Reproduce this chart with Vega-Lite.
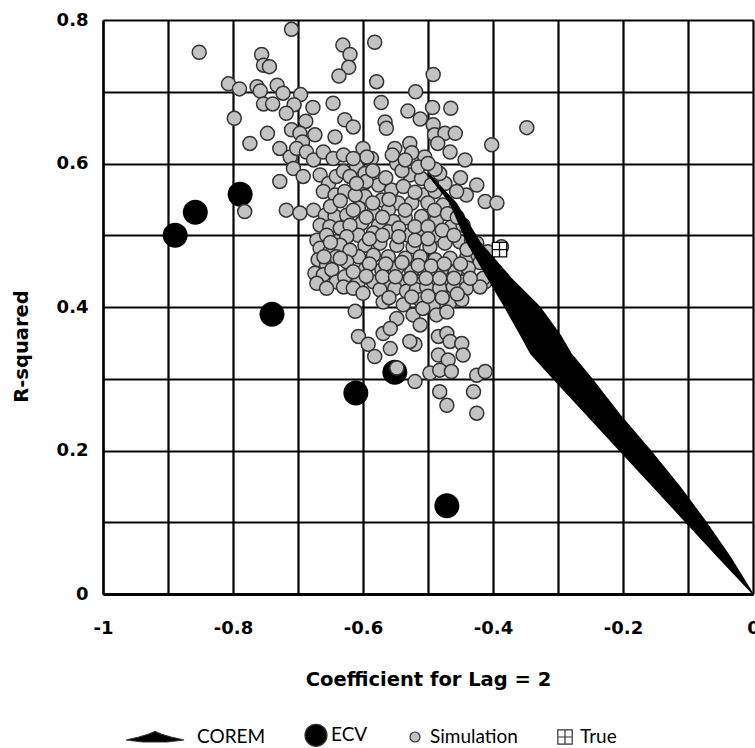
{
  "$schema": "https://vega.github.io/schema/vega-lite/v6.json",
  "width": 650,
  "height": 574,
  "autosize": {"type": "none"},
  "padding": {"left": 103, "top": 20, "right": 2, "bottom": 154},
  "background": "white",
  "config": {
    "view": {"stroke": null},
    "font": "Lato"
  },
  "datasets": {
    "corem": [
      {"r2": 0.584, "coef": -0.5, "coef2": -0.497},
      {"r2": 0.545, "coef": -0.466, "coef2": -0.457},
      {"r2": 0.49, "coef": -0.44, "coef2": -0.42},
      {"r2": 0.44, "coef": -0.408, "coef2": -0.372},
      {"r2": 0.4, "coef": -0.382, "coef2": -0.328},
      {"r2": 0.36, "coef": -0.357, "coef2": -0.296},
      {"r2": 0.335, "coef": -0.342, "coef2": -0.28},
      {"r2": 0.3, "coef": -0.307, "coef2": -0.248},
      {"r2": 0.25, "coef": -0.256, "coef2": -0.205},
      {"r2": 0.2, "coef": -0.205, "coef2": -0.158},
      {"r2": 0.15, "coef": -0.154, "coef2": -0.113},
      {"r2": 0.1, "coef": -0.103, "coef2": -0.072},
      {"r2": 0.05, "coef": -0.052, "coef2": -0.034},
      {"r2": 0.0, "coef": 0.0, "coef2": 0.0}
    ],
    "ecv": [
      {"series": "ECV", "coef": -0.889, "r2": 0.5},
      {"series": "ECV", "coef": -0.858, "r2": 0.532},
      {"series": "ECV", "coef": -0.789, "r2": 0.557},
      {"series": "ECV", "coef": -0.74, "r2": 0.39},
      {"series": "ECV", "coef": -0.611, "r2": 0.28},
      {"series": "ECV", "coef": -0.551, "r2": 0.309},
      {"series": "ECV", "coef": -0.471, "r2": 0.123}
    ],
    "truth": [
      {"series": "True", "coef": -0.39, "r2": 0.48}
    ],
    "simulation": [
      {"series": "Simulation", "coef": -0.852, "r2": 0.755},
      {"series": "Simulation", "coef": -0.71, "r2": 0.787},
      {"series": "Simulation", "coef": -0.756, "r2": 0.752},
      {"series": "Simulation", "coef": -0.753, "r2": 0.737},
      {"series": "Simulation", "coef": -0.744, "r2": 0.735},
      {"series": "Simulation", "coef": -0.631, "r2": 0.765},
      {"series": "Simulation", "coef": -0.62, "r2": 0.752},
      {"series": "Simulation", "coef": -0.622, "r2": 0.734},
      {"series": "Simulation", "coef": -0.637, "r2": 0.722},
      {"series": "Simulation", "coef": -0.807, "r2": 0.711},
      {"series": "Simulation", "coef": -0.79, "r2": 0.704},
      {"series": "Simulation", "coef": -0.763, "r2": 0.707},
      {"series": "Simulation", "coef": -0.758, "r2": 0.701},
      {"series": "Simulation", "coef": -0.732, "r2": 0.709},
      {"series": "Simulation", "coef": -0.723, "r2": 0.698},
      {"series": "Simulation", "coef": -0.696, "r2": 0.696},
      {"series": "Simulation", "coef": -0.753, "r2": 0.683},
      {"series": "Simulation", "coef": -0.739, "r2": 0.683},
      {"series": "Simulation", "coef": -0.706, "r2": 0.682},
      {"series": "Simulation", "coef": -0.677, "r2": 0.678},
      {"series": "Simulation", "coef": -0.646, "r2": 0.684},
      {"series": "Simulation", "coef": -0.798, "r2": 0.663},
      {"series": "Simulation", "coef": -0.718, "r2": 0.67},
      {"series": "Simulation", "coef": -0.688, "r2": 0.659},
      {"series": "Simulation", "coef": -0.628, "r2": 0.661},
      {"series": "Simulation", "coef": -0.615, "r2": 0.651},
      {"series": "Simulation", "coef": -0.747, "r2": 0.642},
      {"series": "Simulation", "coef": -0.71, "r2": 0.647},
      {"series": "Simulation", "coef": -0.697, "r2": 0.642},
      {"series": "Simulation", "coef": -0.674, "r2": 0.64},
      {"series": "Simulation", "coef": -0.643, "r2": 0.637},
      {"series": "Simulation", "coef": -0.774, "r2": 0.628},
      {"series": "Simulation", "coef": -0.693, "r2": 0.63},
      {"series": "Simulation", "coef": -0.728, "r2": 0.621},
      {"series": "Simulation", "coef": -0.582, "r2": 0.769},
      {"series": "Simulation", "coef": -0.492, "r2": 0.724},
      {"series": "Simulation", "coef": -0.579, "r2": 0.714},
      {"series": "Simulation", "coef": -0.519, "r2": 0.7},
      {"series": "Simulation", "coef": -0.572, "r2": 0.685},
      {"series": "Simulation", "coef": -0.531, "r2": 0.673},
      {"series": "Simulation", "coef": -0.493, "r2": 0.678},
      {"series": "Simulation", "coef": -0.465, "r2": 0.677},
      {"series": "Simulation", "coef": -0.512, "r2": 0.662},
      {"series": "Simulation", "coef": -0.566, "r2": 0.658},
      {"series": "Simulation", "coef": -0.564, "r2": 0.649},
      {"series": "Simulation", "coef": -0.492, "r2": 0.654},
      {"series": "Simulation", "coef": -0.49, "r2": 0.64},
      {"series": "Simulation", "coef": -0.474, "r2": 0.642},
      {"series": "Simulation", "coef": -0.458, "r2": 0.642},
      {"series": "Simulation", "coef": -0.348, "r2": 0.65},
      {"series": "Simulation", "coef": -0.402, "r2": 0.626},
      {"series": "Simulation", "coef": -0.528, "r2": 0.628},
      {"series": "Simulation", "coef": -0.551, "r2": 0.621},
      {"series": "Simulation", "coef": -0.6, "r2": 0.621},
      {"series": "Simulation", "coef": -0.485, "r2": 0.628},
      {"series": "Simulation", "coef": -0.505, "r2": 0.609},
      {"series": "Simulation", "coef": -0.466, "r2": 0.616},
      {"series": "Simulation", "coef": -0.443, "r2": 0.605},
      {"series": "Simulation", "coef": -0.587, "r2": 0.607},
      {"series": "Simulation", "coef": -0.425, "r2": 0.57},
      {"series": "Simulation", "coef": -0.441, "r2": 0.556},
      {"series": "Simulation", "coef": -0.412, "r2": 0.547},
      {"series": "Simulation", "coef": -0.394, "r2": 0.545},
      {"series": "Simulation", "coef": -0.474, "r2": 0.572},
      {"series": "Simulation", "coef": -0.456, "r2": 0.561},
      {"series": "Simulation", "coef": -0.482, "r2": 0.586},
      {"series": "Simulation", "coef": -0.408, "r2": 0.477},
      {"series": "Simulation", "coef": -0.412, "r2": 0.435},
      {"series": "Simulation", "coef": -0.594, "r2": 0.609},
      {"series": "Simulation", "coef": -0.525, "r2": 0.615},
      {"series": "Simulation", "coef": -0.61, "r2": 0.596},
      {"series": "Simulation", "coef": -0.597, "r2": 0.586},
      {"series": "Simulation", "coef": -0.548, "r2": 0.6},
      {"series": "Simulation", "coef": -0.528, "r2": 0.584},
      {"series": "Simulation", "coef": -0.51, "r2": 0.579},
      {"series": "Simulation", "coef": -0.489, "r2": 0.592},
      {"series": "Simulation", "coef": -0.602, "r2": 0.568},
      {"series": "Simulation", "coef": -0.576, "r2": 0.57},
      {"series": "Simulation", "coef": -0.556, "r2": 0.563},
      {"series": "Simulation", "coef": -0.538, "r2": 0.568},
      {"series": "Simulation", "coef": -0.507, "r2": 0.556},
      {"series": "Simulation", "coef": -0.489, "r2": 0.561},
      {"series": "Simulation", "coef": -0.597, "r2": 0.554},
      {"series": "Simulation", "coef": -0.571, "r2": 0.549},
      {"series": "Simulation", "coef": -0.546, "r2": 0.545},
      {"series": "Simulation", "coef": -0.525, "r2": 0.545},
      {"series": "Simulation", "coef": -0.5, "r2": 0.545},
      {"series": "Simulation", "coef": -0.477, "r2": 0.542},
      {"series": "Simulation", "coef": -0.607, "r2": 0.538},
      {"series": "Simulation", "coef": -0.584, "r2": 0.531},
      {"series": "Simulation", "coef": -0.561, "r2": 0.535},
      {"series": "Simulation", "coef": -0.535, "r2": 0.524},
      {"series": "Simulation", "coef": -0.51, "r2": 0.526},
      {"series": "Simulation", "coef": -0.487, "r2": 0.521},
      {"series": "Simulation", "coef": -0.602, "r2": 0.517},
      {"series": "Simulation", "coef": -0.576, "r2": 0.514},
      {"series": "Simulation", "coef": -0.553, "r2": 0.519},
      {"series": "Simulation", "coef": -0.464, "r2": 0.512},
      {"series": "Simulation", "coef": -0.446, "r2": 0.514},
      {"series": "Simulation", "coef": -0.607, "r2": 0.5},
      {"series": "Simulation", "coef": -0.584, "r2": 0.503},
      {"series": "Simulation", "coef": -0.561, "r2": 0.505},
      {"series": "Simulation", "coef": -0.53, "r2": 0.5},
      {"series": "Simulation", "coef": -0.51, "r2": 0.498},
      {"series": "Simulation", "coef": -0.489, "r2": 0.5},
      {"series": "Simulation", "coef": -0.474, "r2": 0.489},
      {"series": "Simulation", "coef": -0.451, "r2": 0.491},
      {"series": "Simulation", "coef": -0.433, "r2": 0.493},
      {"series": "Simulation", "coef": -0.597, "r2": 0.486},
      {"series": "Simulation", "coef": -0.574, "r2": 0.489},
      {"series": "Simulation", "coef": -0.548, "r2": 0.486},
      {"series": "Simulation", "coef": -0.523, "r2": 0.484},
      {"series": "Simulation", "coef": -0.497, "r2": 0.484},
      {"series": "Simulation", "coef": -0.425, "r2": 0.489},
      {"series": "Simulation", "coef": -0.387, "r2": 0.484},
      {"series": "Simulation", "coef": -0.607, "r2": 0.47},
      {"series": "Simulation", "coef": -0.584, "r2": 0.472},
      {"series": "Simulation", "coef": -0.561, "r2": 0.47},
      {"series": "Simulation", "coef": -0.535, "r2": 0.468},
      {"series": "Simulation", "coef": -0.512, "r2": 0.47},
      {"series": "Simulation", "coef": -0.489, "r2": 0.466},
      {"series": "Simulation", "coef": -0.466, "r2": 0.468},
      {"series": "Simulation", "coef": -0.44, "r2": 0.47},
      {"series": "Simulation", "coef": -0.423, "r2": 0.472},
      {"series": "Simulation", "coef": -0.42, "r2": 0.462},
      {"series": "Simulation", "coef": -0.597, "r2": 0.452},
      {"series": "Simulation", "coef": -0.571, "r2": 0.452},
      {"series": "Simulation", "coef": -0.548, "r2": 0.454},
      {"series": "Simulation", "coef": -0.525, "r2": 0.449},
      {"series": "Simulation", "coef": -0.505, "r2": 0.449},
      {"series": "Simulation", "coef": -0.479, "r2": 0.452},
      {"series": "Simulation", "coef": -0.458, "r2": 0.449},
      {"series": "Simulation", "coef": -0.438, "r2": 0.454},
      {"series": "Simulation", "coef": -0.415, "r2": 0.44},
      {"series": "Simulation", "coef": -0.607, "r2": 0.435},
      {"series": "Simulation", "coef": -0.584, "r2": 0.435},
      {"series": "Simulation", "coef": -0.561, "r2": 0.433},
      {"series": "Simulation", "coef": -0.538, "r2": 0.435},
      {"series": "Simulation", "coef": -0.515, "r2": 0.431},
      {"series": "Simulation", "coef": -0.492, "r2": 0.433},
      {"series": "Simulation", "coef": -0.469, "r2": 0.431},
      {"series": "Simulation", "coef": -0.448, "r2": 0.435},
      {"series": "Simulation", "coef": -0.712, "r2": 0.609},
      {"series": "Simulation", "coef": -0.702, "r2": 0.621},
      {"series": "Simulation", "coef": -0.687, "r2": 0.616},
      {"series": "Simulation", "coef": -0.676, "r2": 0.605},
      {"series": "Simulation", "coef": -0.661, "r2": 0.616},
      {"series": "Simulation", "coef": -0.646, "r2": 0.607},
      {"series": "Simulation", "coef": -0.63, "r2": 0.612},
      {"series": "Simulation", "coef": -0.615, "r2": 0.607},
      {"series": "Simulation", "coef": -0.707, "r2": 0.593},
      {"series": "Simulation", "coef": -0.692, "r2": 0.582},
      {"series": "Simulation", "coef": -0.666, "r2": 0.584},
      {"series": "Simulation", "coef": -0.653, "r2": 0.572},
      {"series": "Simulation", "coef": -0.641, "r2": 0.582},
      {"series": "Simulation", "coef": -0.63, "r2": 0.589},
      {"series": "Simulation", "coef": -0.62, "r2": 0.582},
      {"series": "Simulation", "coef": -0.728, "r2": 0.575},
      {"series": "Simulation", "coef": -0.661, "r2": 0.561},
      {"series": "Simulation", "coef": -0.643, "r2": 0.556},
      {"series": "Simulation", "coef": -0.628, "r2": 0.561},
      {"series": "Simulation", "coef": -0.612, "r2": 0.556},
      {"series": "Simulation", "coef": -0.782, "r2": 0.533},
      {"series": "Simulation", "coef": -0.718, "r2": 0.535},
      {"series": "Simulation", "coef": -0.697, "r2": 0.531},
      {"series": "Simulation", "coef": -0.676, "r2": 0.535},
      {"series": "Simulation", "coef": -0.658, "r2": 0.528},
      {"series": "Simulation", "coef": -0.643, "r2": 0.526},
      {"series": "Simulation", "coef": -0.625, "r2": 0.528},
      {"series": "Simulation", "coef": -0.666, "r2": 0.514},
      {"series": "Simulation", "coef": -0.651, "r2": 0.512},
      {"series": "Simulation", "coef": -0.635, "r2": 0.51},
      {"series": "Simulation", "coef": -0.62, "r2": 0.514},
      {"series": "Simulation", "coef": -0.671, "r2": 0.493},
      {"series": "Simulation", "coef": -0.656, "r2": 0.5},
      {"series": "Simulation", "coef": -0.641, "r2": 0.491},
      {"series": "Simulation", "coef": -0.625, "r2": 0.498},
      {"series": "Simulation", "coef": -0.666, "r2": 0.482},
      {"series": "Simulation", "coef": -0.651, "r2": 0.477},
      {"series": "Simulation", "coef": -0.635, "r2": 0.486},
      {"series": "Simulation", "coef": -0.62, "r2": 0.479},
      {"series": "Simulation", "coef": -0.669, "r2": 0.466},
      {"series": "Simulation", "coef": -0.656, "r2": 0.459},
      {"series": "Simulation", "coef": -0.641, "r2": 0.47},
      {"series": "Simulation", "coef": -0.625, "r2": 0.463},
      {"series": "Simulation", "coef": -0.674, "r2": 0.447},
      {"series": "Simulation", "coef": -0.661, "r2": 0.445},
      {"series": "Simulation", "coef": -0.648, "r2": 0.452},
      {"series": "Simulation", "coef": -0.641, "r2": 0.435},
      {"series": "Simulation", "coef": -0.628, "r2": 0.442},
      {"series": "Simulation", "coef": -0.615, "r2": 0.449},
      {"series": "Simulation", "coef": -0.671, "r2": 0.433},
      {"series": "Simulation", "coef": -0.656, "r2": 0.426},
      {"series": "Simulation", "coef": -0.63, "r2": 0.428},
      {"series": "Simulation", "coef": -0.615, "r2": 0.426},
      {"series": "Simulation", "coef": -0.574, "r2": 0.424},
      {"series": "Simulation", "coef": -0.551, "r2": 0.426},
      {"series": "Simulation", "coef": -0.533, "r2": 0.422},
      {"series": "Simulation", "coef": -0.518, "r2": 0.424},
      {"series": "Simulation", "coef": -0.502, "r2": 0.428},
      {"series": "Simulation", "coef": -0.482, "r2": 0.426},
      {"series": "Simulation", "coef": -0.461, "r2": 0.428},
      {"series": "Simulation", "coef": -0.441, "r2": 0.426},
      {"series": "Simulation", "coef": -0.42, "r2": 0.428},
      {"series": "Simulation", "coef": -0.569, "r2": 0.407},
      {"series": "Simulation", "coef": -0.538, "r2": 0.403},
      {"series": "Simulation", "coef": -0.512, "r2": 0.41},
      {"series": "Simulation", "coef": -0.492, "r2": 0.403},
      {"series": "Simulation", "coef": -0.466, "r2": 0.407},
      {"series": "Simulation", "coef": -0.448, "r2": 0.41},
      {"series": "Simulation", "coef": -0.612, "r2": 0.394},
      {"series": "Simulation", "coef": -0.548, "r2": 0.384},
      {"series": "Simulation", "coef": -0.523, "r2": 0.389},
      {"series": "Simulation", "coef": -0.508, "r2": 0.398},
      {"series": "Simulation", "coef": -0.487, "r2": 0.389},
      {"series": "Simulation", "coef": -0.471, "r2": 0.393},
      {"series": "Simulation", "coef": -0.512, "r2": 0.375},
      {"series": "Simulation", "coef": -0.569, "r2": 0.363},
      {"series": "Simulation", "coef": -0.558, "r2": 0.37},
      {"series": "Simulation", "coef": -0.607, "r2": 0.359},
      {"series": "Simulation", "coef": -0.592, "r2": 0.348},
      {"series": "Simulation", "coef": -0.558, "r2": 0.342},
      {"series": "Simulation", "coef": -0.582, "r2": 0.331},
      {"series": "Simulation", "coef": -0.52, "r2": 0.348},
      {"series": "Simulation", "coef": -0.528, "r2": 0.352},
      {"series": "Simulation", "coef": -0.484, "r2": 0.359},
      {"series": "Simulation", "coef": -0.471, "r2": 0.363},
      {"series": "Simulation", "coef": -0.466, "r2": 0.352},
      {"series": "Simulation", "coef": -0.448, "r2": 0.349},
      {"series": "Simulation", "coef": -0.484, "r2": 0.333},
      {"series": "Simulation", "coef": -0.469, "r2": 0.326},
      {"series": "Simulation", "coef": -0.446, "r2": 0.333},
      {"series": "Simulation", "coef": -0.548, "r2": 0.315},
      {"series": "Simulation", "coef": -0.52, "r2": 0.296},
      {"series": "Simulation", "coef": -0.497, "r2": 0.308},
      {"series": "Simulation", "coef": -0.482, "r2": 0.312},
      {"series": "Simulation", "coef": -0.464, "r2": 0.31},
      {"series": "Simulation", "coef": -0.482, "r2": 0.282},
      {"series": "Simulation", "coef": -0.471, "r2": 0.263},
      {"series": "Simulation", "coef": -0.425, "r2": 0.305},
      {"series": "Simulation", "coef": -0.412, "r2": 0.31},
      {"series": "Simulation", "coef": -0.43, "r2": 0.282},
      {"series": "Simulation", "coef": -0.425, "r2": 0.252},
      {"series": "Simulation", "coef": -0.595, "r2": 0.575},
      {"series": "Simulation", "coef": -0.565, "r2": 0.58},
      {"series": "Simulation", "coef": -0.54, "r2": 0.59},
      {"series": "Simulation", "coef": -0.515, "r2": 0.595},
      {"series": "Simulation", "coef": -0.495, "r2": 0.57},
      {"series": "Simulation", "coef": -0.52, "r2": 0.56},
      {"series": "Simulation", "coef": -0.585, "r2": 0.545},
      {"series": "Simulation", "coef": -0.56, "r2": 0.55},
      {"series": "Simulation", "coef": -0.535, "r2": 0.535},
      {"series": "Simulation", "coef": -0.49, "r2": 0.535},
      {"series": "Simulation", "coef": -0.47, "r2": 0.53},
      {"series": "Simulation", "coef": -0.455, "r2": 0.525},
      {"series": "Simulation", "coef": -0.595, "r2": 0.525},
      {"series": "Simulation", "coef": -0.57, "r2": 0.525},
      {"series": "Simulation", "coef": -0.545, "r2": 0.51},
      {"series": "Simulation", "coef": -0.52, "r2": 0.512},
      {"series": "Simulation", "coef": -0.5, "r2": 0.512},
      {"series": "Simulation", "coef": -0.478, "r2": 0.507},
      {"series": "Simulation", "coef": -0.59, "r2": 0.495},
      {"series": "Simulation", "coef": -0.57, "r2": 0.5},
      {"series": "Simulation", "coef": -0.545, "r2": 0.498},
      {"series": "Simulation", "coef": -0.52, "r2": 0.493},
      {"series": "Simulation", "coef": -0.5, "r2": 0.495},
      {"series": "Simulation", "coef": -0.46, "r2": 0.5},
      {"series": "Simulation", "coef": -0.44, "r2": 0.48},
      {"series": "Simulation", "coef": -0.59, "r2": 0.46},
      {"series": "Simulation", "coef": -0.565, "r2": 0.46},
      {"series": "Simulation", "coef": -0.54, "r2": 0.462},
      {"series": "Simulation", "coef": -0.515, "r2": 0.458},
      {"series": "Simulation", "coef": -0.495, "r2": 0.457},
      {"series": "Simulation", "coef": -0.475, "r2": 0.46},
      {"series": "Simulation", "coef": -0.45, "r2": 0.46},
      {"series": "Simulation", "coef": -0.595, "r2": 0.443},
      {"series": "Simulation", "coef": -0.57, "r2": 0.442},
      {"series": "Simulation", "coef": -0.55, "r2": 0.442},
      {"series": "Simulation", "coef": -0.527, "r2": 0.44},
      {"series": "Simulation", "coef": -0.503, "r2": 0.44},
      {"series": "Simulation", "coef": -0.482, "r2": 0.44},
      {"series": "Simulation", "coef": -0.46, "r2": 0.44},
      {"series": "Simulation", "coef": -0.435, "r2": 0.44},
      {"series": "Simulation", "coef": -0.6, "r2": 0.419},
      {"series": "Simulation", "coef": -0.56, "r2": 0.413},
      {"series": "Simulation", "coef": -0.525, "r2": 0.414},
      {"series": "Simulation", "coef": -0.5, "r2": 0.415},
      {"series": "Simulation", "coef": -0.478, "r2": 0.413},
      {"series": "Simulation", "coef": -0.455, "r2": 0.418},
      {"series": "Simulation", "coef": -0.65, "r2": 0.54},
      {"series": "Simulation", "coef": -0.635, "r2": 0.548},
      {"series": "Simulation", "coef": -0.65, "r2": 0.49},
      {"series": "Simulation", "coef": -0.635, "r2": 0.468},
      {"series": "Simulation", "coef": -0.66, "r2": 0.47},
      {"series": "Simulation", "coef": -0.615, "r2": 0.535},
      {"series": "Simulation", "coef": -0.61, "r2": 0.572},
      {"series": "Simulation", "coef": -0.585, "r2": 0.59},
      {"series": "Simulation", "coef": -0.555, "r2": 0.612},
      {"series": "Simulation", "coef": -0.535, "r2": 0.605},
      {"series": "Simulation", "coef": -0.45, "r2": 0.58},
      {"series": "Simulation", "coef": -0.5, "r2": 0.6}
    ]
  },
  "encoding": {
    "x": {
      "field": "coef",
      "type": "quantitative",
      "title": "Coefficient for Lag = 2",
      "scale": {"domain": [-1, 0], "nice": false, "zero": false},
      "axis": {
        "values": [-1, -0.9, -0.8, -0.7, -0.6, -0.5, -0.4, -0.3, -0.2, -0.1, 0],
        "labelExpr": "abs(round(datum.value*10)) % 2 == 0 ? replace(format(datum.value, '~g'), '\u2212', '-') : ''",
        "labelFlush": false,
        "labelOverlap": false,
        "grid": true,
        "gridColor": "black",
        "gridWidth": 2.2,
        "gridOpacity": 1,
        "ticks": false,
        "tickSize": 0,
        "domain": true,
        "domainColor": "black",
        "domainWidth": 3,
        "labelFont": "DejaVu Sans",
        "labelFontSize": 18,
        "labelFontWeight": "bold",
        "labelColor": "black",
        "labelPadding": 25,
        "titleFont": "DejaVu Sans",
        "titleFontSize": 19.5,
        "titleFontWeight": "bold",
        "titleColor": "black",
        "titlePadding": 33
      }
    },
    "y": {
      "field": "r2",
      "type": "quantitative",
      "title": "R-squared",
      "scale": {"domain": [0, 0.8], "nice": false, "zero": false},
      "axis": {
        "values": [0, 0.1, 0.2, 0.3, 0.4, 0.5, 0.6, 0.7, 0.8],
        "labelExpr": "round(datum.value*10) % 2 == 0 ? format(datum.value, '~g') : ''",
        "labelOverlap": false,
        "grid": true,
        "gridColor": "black",
        "gridWidth": 2.2,
        "gridOpacity": 1,
        "ticks": false,
        "tickSize": 0,
        "domain": true,
        "domainColor": "black",
        "domainWidth": 2.2,
        "labelFont": "DejaVu Sans",
        "labelFontSize": 18,
        "labelFontWeight": "bold",
        "labelColor": "black",
        "labelPadding": 15,
        "titleFont": "DejaVu Sans",
        "titleFontSize": 19.5,
        "titleFontWeight": "bold",
        "titleColor": "black",
        "titleAngle": 270,
        "titleAlign": "center",
        "titleBaseline": "middle",
        "titleX": -82,
        "titleY": 326
      }
    }
  },
  "layer": [
    {
      "data": {"name": "ecv"},
      "mark": {"type": "point", "filled": true, "opacity": 1, "size": 516, "strokeWidth": 0},
      "encoding": {
        "color": {"field": "series", "type": "nominal",
          "scale": {"domain": ["COREM", "ECV", "Simulation", "True"], "range": ["black", "black", "#c2c2c2", "white"]},
          "legend": {"title": null, "orient": "none", "legendX": 68, "legendY": 704, "direction": "horizontal", "padding": 0, "symbolSize": 400, "symbolStrokeColor": "black", "symbolStrokeWidth": 1.2, "symbolOpacity": 1, "labelFont": "Lato", "labelFontSize": 19, "labelColor": "black", "labelOffset": 4, "columnPadding": 36}},
        "shape": {"field": "series", "type": "nominal",
          "scale": {"domain": ["COREM", "ECV", "Simulation", "True"], "range": ["M-5.6,0.3 L-4.3,0 L-3.3,-0.3 L-2.7,-0.55 L-2.1,-0.3 L-1.1,0 L0.2,0.3 L-1.5,0.5 L-3.9,0.5 Z", "M-1.1,0 A1.1,1.1 0 1,0 1.1,0 A1.1,1.1 0 1,0 -1.1,0 Z", "M-0.5,0 A0.5,0.5 0 1,0 0.5,0 A0.5,0.5 0 1,0 -0.5,0 Z", "M-0.72,-0.72 H0.72 V0.72 H-0.72 Z M0,-0.72 V0.72 M-0.72,0 H0.72"]},
          "legend": {"title": null, "orient": "none", "legendX": 68, "legendY": 704, "direction": "horizontal", "padding": 0, "symbolSize": 400, "symbolStrokeColor": "black", "symbolStrokeWidth": 1.2, "symbolOpacity": 1, "labelFont": "Lato", "labelFontSize": 19, "labelColor": "black", "labelOffset": 4, "columnPadding": 36}}
      }
    },
    {
      "data": {"name": "simulation"},
      "mark": {"type": "point", "filled": true, "opacity": 1, "size": 784, "stroke": "#333333", "strokeWidth": 1.5},
      "encoding": {
        "color": {"field": "series", "type": "nominal"},
        "shape": {"field": "series", "type": "nominal"}
      }
    },
    {
      "data": {"name": "corem"},
      "mark": {"type": "area", "orient": "horizontal", "fill": "black", "stroke": "black", "strokeWidth": 1.2, "opacity": 1},
      "encoding": {"x2": {"field": "coef2"}}
    },
    {
      "data": {"name": "truth"},
      "mark": {"type": "point", "filled": true, "opacity": 1, "size": 400, "stroke": "black", "strokeWidth": 1.3},
      "encoding": {
        "color": {"field": "series", "type": "nominal"},
        "shape": {"field": "series", "type": "nominal"}
      }
    }
  ]
}
